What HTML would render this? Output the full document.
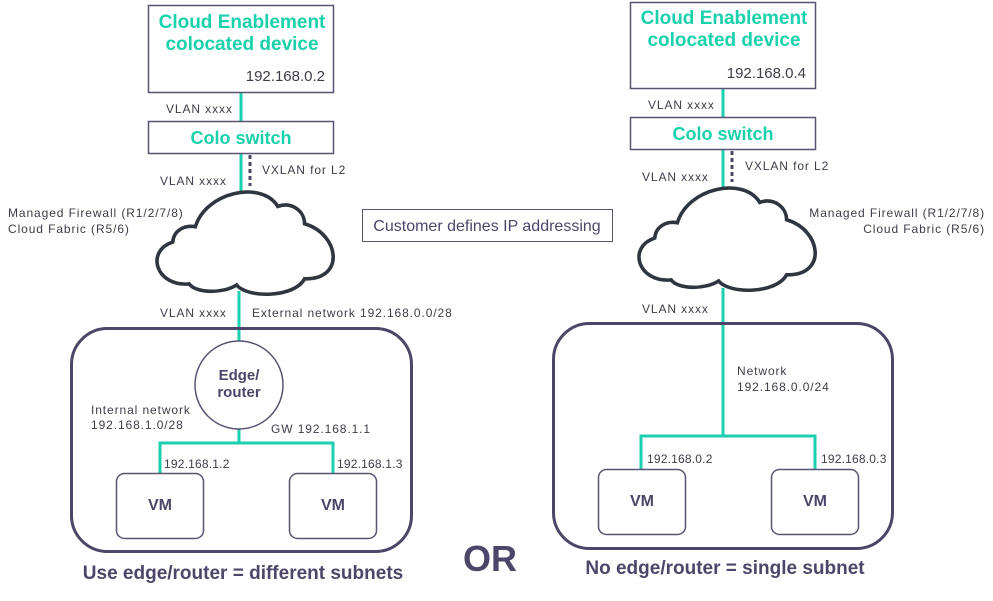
<!DOCTYPE html>
<html><head><meta charset="utf-8"><style>
html,body{margin:0;padding:0;background:#fff;}
svg{display:block}
text{font-family:"Liberation Sans",sans-serif;}
.t{fill:#19d1ab;font-weight:bold;font-size:19px;text-anchor:middle}
.s{fill:#3d3d4a;font-size:12px;letter-spacing:0.9px}
.ip{fill:#3d3d4a;font-size:12px;letter-spacing:0.2px}
.dv{fill:#3d3d4a;font-size:15px}
.b{fill:#4d4668;font-weight:bold}
</style></head><body>
<svg width="993" height="601" viewBox="0 0 993 601" xmlns="http://www.w3.org/2000/svg">
<defs>
<path id="cloud" d="M40 96 C8 99 -3 64 24 55 C25 43 36 38 46 40 C56 6 110 -6 126 20 C140 15 152 25 152 37 C186 47 192 92 152 91 C142 110 96 110 86 97 C72 106 46 105 40 96 Z" fill="#fff" stroke="#2f3640" stroke-width="3.5"/>
</defs>
<g stroke="#1ccfae" stroke-width="3" fill="none">
<line x1="241" y1="92" x2="241" y2="121"/>
<line x1="241" y1="153" x2="241" y2="192"/>
<line x1="239" y1="291" x2="239" y2="342"/>
<polyline points="160,474 160,443 333,443 333,474"/>
<line x1="239" y1="429" x2="239" y2="443"/>
<line x1="723" y1="88" x2="723" y2="117"/>
<line x1="723" y1="149" x2="723" y2="188"/>
<line x1="723" y1="288" x2="723" y2="436"/>
<polyline points="641,470 641,436 815,436 815,470"/>
</g>
<g stroke="#4d4668" stroke-width="3" stroke-dasharray="4,3">
<line x1="250" y1="155" x2="250" y2="186"/>
<line x1="732" y1="151" x2="732" y2="182"/>
</g>
<rect x="148.5" y="5.5" width="185" height="87" fill="#fff" stroke="#5a5470" stroke-width="1.5"/>
<text class="t" x="242" y="28">Cloud Enablement</text>
<text class="t" x="242" y="50">colocated device</text>
<text class="dv" x="325" y="81" text-anchor="end">192.168.0.2</text>
<rect x="148.5" y="121.5" width="185" height="32" fill="#fff" stroke="#5a5470" stroke-width="1.5"/>
<text class="t" x="241" y="144" style="font-size:18px">Colo switch</text>
<text class="s" x="166" y="113">VLAN xxxx</text>
<text class="s" x="262" y="174">VXLAN for L2</text>
<text class="s" x="160" y="185">VLAN xxxx</text>
<use href="#cloud" transform="translate(148,186) scale(1.03,1.02)"/>
<text class="s" x="8" y="217">Managed Firewall (R1/2/7/8)</text>
<text class="s" x="8" y="233">Cloud Fabric (R5/6)</text>
<text class="s" x="160" y="317">VLAN xxxx</text>
<text class="s" x="252" y="317">External network 192.168.0.0/28</text>
<rect x="71.5" y="328.5" width="340" height="223" rx="36" fill="none" stroke="#4d4668" stroke-width="3"/>
<circle cx="239" cy="385" r="44" fill="#fff" stroke="#5a5470" stroke-width="1.5"/>
<text class="b" x="239" y="380" font-size="15" text-anchor="middle">Edge/</text>
<text class="b" x="239" y="397" font-size="15" text-anchor="middle">router</text>
<text class="s" x="91" y="414">Internal network</text>
<text class="s" x="91" y="429">192.168.1.0/28</text>
<text class="s" x="271" y="433">GW 192.168.1.1</text>
<text class="ip" x="164" y="468">192.168.1.2</text>
<text class="ip" x="337" y="468">192.168.1.3</text>
<rect x="116.5" y="473.5" width="87" height="65" rx="8" fill="#fff" stroke="#5a5470" stroke-width="1.5"/>
<rect x="289.5" y="473.5" width="87" height="65" rx="8" fill="#fff" stroke="#5a5470" stroke-width="1.5"/>
<text class="b" x="160" y="510" font-size="16" text-anchor="middle">VM</text>
<text class="b" x="333" y="510" font-size="16" text-anchor="middle">VM</text>
<text class="b" x="243" y="579" font-size="19" text-anchor="middle">Use edge/router = different subnets</text>
<rect x="362.5" y="209.5" width="250" height="32" fill="#fff" stroke="#5a5470" stroke-width="1"/>
<text x="487" y="231" font-size="16" fill="#4d4668" text-anchor="middle">Customer defines IP addressing</text>
<text class="b" x="490" y="571" font-size="36" text-anchor="middle">OR</text>
<rect x="630.5" y="2.5" width="185" height="86" fill="#fff" stroke="#5a5470" stroke-width="1.5"/>
<text class="t" x="724" y="24">Cloud Enablement</text>
<text class="t" x="724" y="46">colocated device</text>
<text class="dv" x="806" y="78" text-anchor="end">192.168.0.4</text>
<rect x="630.5" y="117.5" width="185" height="32" fill="#fff" stroke="#5a5470" stroke-width="1.5"/>
<text class="t" x="723" y="140" style="font-size:18px">Colo switch</text>
<text class="s" x="648" y="109">VLAN xxxx</text>
<text class="s" x="745" y="170">VXLAN for L2</text>
<text class="s" x="642" y="181">VLAN xxxx</text>
<use href="#cloud" transform="translate(630,182) scale(1.03,1.02)"/>
<text class="s" x="985" y="217" text-anchor="end">Managed Firewall (R1/2/7/8)</text>
<text class="s" x="985" y="233" text-anchor="end">Cloud Fabric (R5/6)</text>
<text class="s" x="642" y="313">VLAN xxxx</text>
<rect x="553.5" y="323.5" width="339" height="225" rx="36" fill="none" stroke="#4d4668" stroke-width="3"/>
<text class="s" x="737" y="375">Network</text>
<text class="s" x="737" y="391">192.168.0.0/24</text>
<text class="ip" x="647" y="463">192.168.0.2</text>
<text class="ip" x="821" y="463">192.168.0.3</text>
<rect x="598.5" y="469.5" width="87" height="65" rx="8" fill="#fff" stroke="#5a5470" stroke-width="1.5"/>
<rect x="771.5" y="469.5" width="87" height="65" rx="8" fill="#fff" stroke="#5a5470" stroke-width="1.5"/>
<text class="b" x="642" y="506" font-size="16" text-anchor="middle">VM</text>
<text class="b" x="815" y="506" font-size="16" text-anchor="middle">VM</text>
<text class="b" x="725" y="574" font-size="19" text-anchor="middle">No edge/router = single subnet</text>
</svg>
</body></html>
